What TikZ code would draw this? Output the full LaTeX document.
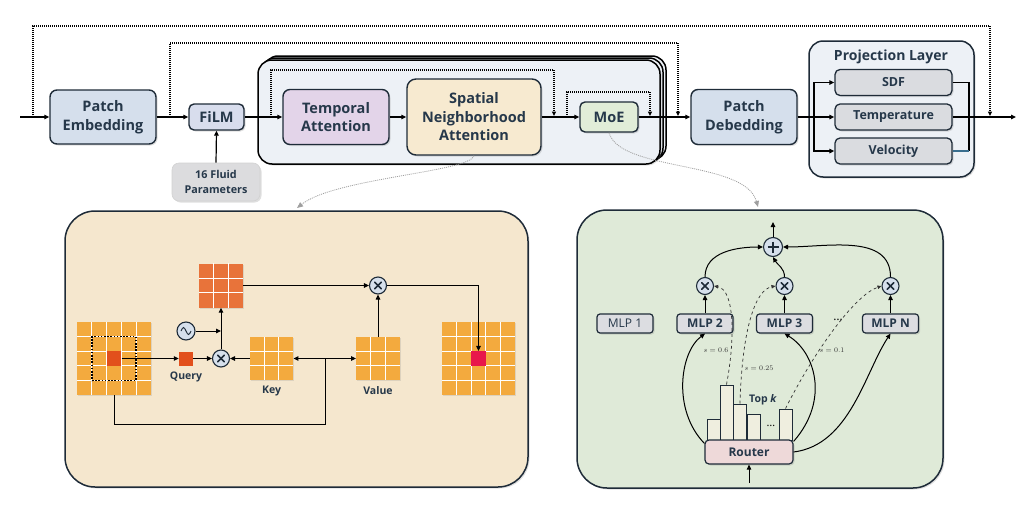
\documentclass[tikz,border=0pt]{standalone}
\usepackage{fontspec}
\setmainfont{Open Sans}
\usetikzlibrary{arrows.meta,shadows,calc}
\definecolor{edge}{HTML}{1E2B38}
\definecolor{txt}{HTML}{26384A}
\definecolor{peC}{HTML}{D5DFEC}
\definecolor{filmC}{HTML}{D8DDED}
\definecolor{fluidC}{HTML}{DCDCDE}
\definecolor{stkC}{HTML}{EDF1F6}
\definecolor{taC}{HTML}{E3D4E9}
\definecolor{snaC}{HTML}{F7EAD0}
\definecolor{moeC}{HTML}{E1EDD8}
\definecolor{subC}{HTML}{DADCE0}
\definecolor{lpC}{HTML}{F5E7CE}
\definecolor{rpC}{HTML}{DFEAD8}
\definecolor{gOr}{HTML}{F3AA3E}
\definecolor{attC}{HTML}{E8733A}
\definecolor{qC}{HTML}{E2501C}
\definecolor{ocC}{HTML}{E8174B}
\definecolor{opC}{HTML}{D6E0EC}
\definecolor{mlpC}{HTML}{DCDDE1}
\definecolor{rtC}{HTML}{EED9D9}
\definecolor{barC}{HTML}{EFEEDF}
\definecolor{velC}{HTML}{3A6F8F}
\newcommand{\mygrid}[2]{%
  \foreach \i in {#2} {%
    \draw[white,line width=0.9pt] ($(#1.north west)!\i!(#1.north east)$) -- ($(#1.south west)!\i!(#1.south east)$);
    \draw[white,line width=0.9pt] ($(#1.north west)!\i!(#1.south west)$) -- ($(#1.north east)!\i!(#1.south east)$);
  }}
\newcommand{\mycross}[1]{%
  \draw[line width=1.7pt,edge,line cap=round] ($(#1.center)+(-3.2,-3.2)$) -- ($(#1.center)+(3.2,3.2)$);
  \draw[line width=1.7pt,edge,line cap=round] ($(#1.center)+(-3.2,3.2)$) -- ($(#1.center)+(3.2,-3.2)$);}
\begin{document}
\begin{tikzpicture}[x=1pt,y=-1pt,
  shd/.style={drop shadow={shadow xshift=1.5pt,shadow yshift=-1.5pt,opacity=0.25}},
  blk/.style={draw=edge,line width=1.4pt,rounded corners=7pt,align=center,
    font=\bfseries\fontsize{14.5}{18.5}\selectfont,text=txt,inner sep=0pt,shd},
  sub/.style={draw=edge,line width=1.3pt,rounded corners=5pt,fill=subC,inner sep=0pt,
    minimum width=117,minimum height=26,font=\bfseries\fontsize{12.5}{14}\selectfont,text=txt,shd},
  stk/.style={draw=black,line width=1.5pt,rounded corners=14pt,fill=stkC,minimum width=402,minimum height=104,inner sep=0pt},
  panel/.style={draw=edge,line width=1.5pt,rounded corners=30pt,inner sep=0pt,shd},
  arr/.style={-{Triangle[length=5pt,width=4.5pt]},line width=1.2pt,draw=black},
  sarr/.style={-{Triangle[length=5pt,width=4.5pt]},line width=1pt,draw=black},
  dotl/.style={line width=1.3pt,dash pattern=on 1pt off 1pt,-{Triangle[length=4.5pt,width=4pt]}},
  gcurve/.style={draw=gray!75,line width=0.8pt,dash pattern=on 1pt off 1pt,-{Triangle[length=6pt,width=5pt,fill=gray!75]}},
  gridn/.style={fill=gOr,inner sep=0pt,draw=none,drop shadow={shadow xshift=1pt,shadow yshift=-1pt,opacity=0.2}},
  cell/.style={inner sep=0pt,draw=none,minimum size=14.7},
  opn/.style={circle,draw=edge,line width=1.1pt,fill=opC,minimum size=17,inner sep=0pt},
  lbl/.style={font=\bfseries\fontsize{10.5}{12}\selectfont,text=txt},
  mlp/.style={draw=edge,line width=1.2pt,rounded corners=3pt,fill=mlpC,minimum width=56,minimum height=19,
    inner sep=0pt,font=\bfseries\fontsize{12}{13}\selectfont,text=txt,shd},
  bar/.style={draw=edge,line width=1pt,fill=barC,inner sep=0pt,minimum width=13},
  dsh/.style={dashed,line width=0.7pt,draw=black!80,-{Triangle[length=4pt,width=3.5pt]}},
  slab/.style={font=\fontsize{7}{8}\selectfont,text=black!80}
]
\useasboundingbox (0,0) rectangle (1024,506);

% ---------- panels ----------
\node[panel,fill=lpC,minimum width=463,minimum height=276] (lp) at (296.5,349) {};
\node[panel,fill=rpC,minimum width=366,minimum height=278] (rp) at (760,349) {};

% ---------- top row ----------
\node[stk] (stkA) at (465,108) {};
\node[stk] (stkB) at (462,110) {};
\node[stk,shd] (stkC) at (459,112) {};

\node[blk,fill=peC,minimum width=106,minimum height=54] (pe) at (103,117) {Patch\\Embedding};
\node[blk,fill=filmC,minimum width=55,minimum height=26,rounded corners=5pt] (film) at (216.5,117) {FiLM};
\node[blk,fill=fluidC,draw=gray!35,line width=0.6pt,minimum width=88,minimum height=38,
  font=\bfseries\fontsize{10.8}{15}\selectfont] (fluid) at (216,182) {16 Fluid\\Parameters};
\node[blk,fill=taC,minimum width=106,minimum height=55] (ta) at (336,117) {Temporal\\Attention};
\node[blk,fill=snaC,minimum width=134,minimum height=76,rounded corners=9pt] (sna) at (474,117) {Spatial\\Neighborhood\\Attention};
\node[blk,fill=moeC,minimum width=58,minimum height=30,rounded corners=5pt] (moe) at (609,117) {MoE};
\node[blk,fill=peC,minimum width=106,minimum height=55] (pd) at (744,117) {Patch\\Debedding};

\node[draw=edge,line width=1.5pt,rounded corners=14pt,fill=stkC,minimum width=165,minimum height=136,inner sep=0pt,shd] (proj) at (891.5,109) {};
\node[font=\bfseries\fontsize{14}{16}\selectfont,text=txt] (projt) at (891,57) {Projection Layer};
\node[sub] (sdf) at (893.5,82.5) {SDF};
\node[sub] (temp) at (893.5,117) {Temperature};
\node[sub] (vel) at (893.5,151) {Velocity};

% main line
\coordinate (in) at (20,117);
\coordinate (out) at (1016,117);
\draw[arr] (in) -- (pe.west);
\draw[arr] (pe.east) -- (film.west);
\draw[arr] (fluid.north) -- (film.south);
\draw[arr] (film.east) -- (ta.west);
\draw[arr] (ta.east) -- (sna.west);
\draw[arr] (sna.east) -- (moe.west);
\draw[arr] (moe.east) -- (pd.west);
\draw[arr] (pd.east) -- (temp.west);
\coordinate (sp) at (814,117);
\draw[arr] (sp) |- (sdf.west);
\draw[arr] (sp) |- (vel.west);
\coordinate (jn) at (969,117);
\draw[line width=1.2pt] (sdf.east) -| (jn);
\draw[line width=1.2pt] (jn) -- (969,151);
\draw[line width=1.2pt,velC] (vel.east) -- (969,151);
\draw[arr] (temp.east) -- (out);

% dotted skip loops
\coordinate (d1a) at (33,117); \coordinate (d1b) at (990,116);
\draw[dotl] (d1a) -- (33,26) -- (990,26) -- (d1b);
\coordinate (d2a) at (170,117); \coordinate (d2b) at (678,116);
\draw[dotl] (d2a) -- (170,43) -- (678,43) -- (d2b);
\coordinate (d3a) at (271,117); \coordinate (d3b) at (554,116);
\draw[dotl] (d3a) -- (271,70) -- (554,70) -- (d3b);
\coordinate (d4a) at (567,117); \coordinate (d4b) at (650,116);
\draw[dotl] (d4a) -- (567,92) -- (650,92) -- (d4b);

% zoom curves
\coordinate (lpin) at (297,208);
\coordinate (rpin) at (758,207);
\draw[gcurve] (sna.south) .. controls (470,172) and (335,178) .. (lpin);
\draw[gcurve] (moe.south) .. controls (620,172) and (745,160) .. (rpin);

% ---------- left panel: spatial neighborhood attention ----------
\node[gridn,minimum size=73.5] (inp) at (114,358.5) {};
\mygrid{inp}{0.2,0.4,0.6,0.8}
\node[cell,fill=qC] (qc) at (114,358.5) {};
\node[draw=black,line width=1.6pt,dash pattern=on 1.6pt off 1.6pt,minimum size=44,inner sep=0pt] (win) at (114,358.5) {};

\node[gridn,minimum size=73.5] (outg) at (478.5,358.5) {};
\mygrid{outg}{0.2,0.4,0.6,0.8}
\node[cell,fill=ocC] (oc) at (478.5,358.5) {};

\node[gridn,minimum size=43.5] (key) at (271.5,358.5) {};
\mygrid{key}{0.3333,0.6667}
\node[gridn,minimum size=43.5] (val) at (378,358.5) {};
\mygrid{val}{0.3333,0.6667}
\node[gridn,fill=attC,minimum size=44] (att) at (221,285.5) {};
\mygrid{att}{0.3333,0.6667}

\node[cell,fill=qC,minimum size=14] (qry) at (186,358.5) {};
\node[lbl] (qlab) at (186,377) {Query};
\node[lbl] (klab) at (271.5,391) {Key};
\node[lbl] (vlab) at (378,391) {Value};

\node[opn] (t1) at (221,358.5) {};
\mycross{t1}
\node[opn] (t2) at (378,285.5) {};
\mycross{t2}
\node[opn,minimum size=18] (sine) at (186,331) {};
\draw[line width=0.9pt,edge] ($(sine.center)+(-5,0)$) sin ++(2.5,-3.5) cos ++(2.5,3.5) sin ++(2.5,3.5) cos ++(2.5,-3.5);

\draw[sarr] (qc.east) -- (qry.west);
\draw[sarr] (qry.east) -- (t1.west);
\draw[sarr] (key.west) -- (t1.east);
\draw[sarr] (t1.north) -- (att.south);
\coordinate (sj) at (221,331);
\draw[sarr] (sine.east) -- (sj);
\coordinate (kv) at (325,358.5);
\draw[line width=1pt] (inp.south) |- (325,424) -- (kv);
\draw[sarr] (kv) -- (key.east);
\draw[sarr] (kv) -- (val.west);
\draw[sarr] (att.east) -- (t2.west);
\draw[sarr] (val.north) -- (t2.south);
\draw[sarr] (t2.east) -| (oc.north);

% ---------- right panel: MoE ----------
\node[mlp,font=\fontsize{12}{13}\selectfont] (m1) at (625,323.5) {MLP 1};
\node[mlp] (m2) at (705,323.5) {MLP 2};
\node[mlp] (m3) at (784.5,323.5) {MLP 3};
\node[mlp] (mn) at (890.5,323.5) {MLP N};
\node[font=\fontsize{12}{12}\selectfont] (dots1) at (838,320) {…};

\node[opn] (x2) at (705,286) {};
\mycross{x2}
\node[opn] (x3) at (784.5,286) {};
\mycross{x3}
\node[opn] (xn) at (890.5,286) {};
\mycross{xn}
\node[opn,minimum size=19] (plus) at (773,247) {};
\draw[line width=1.8pt,edge] ($(plus.center)+(-5.5,0)$) -- ($(plus.center)+(5.5,0)$);
\draw[line width=1.8pt,edge] ($(plus.center)+(0,-5.5)$) -- ($(plus.center)+(0,5.5)$);
\coordinate (pout) at (773,222);

\node[bar,minimum height=21] (b1) at (713.5,429.5) {};
\node[bar,minimum height=55] (b2) at (726.5,412.5) {};
\node[bar,minimum height=36] (b3) at (740,422) {};
\node[bar,minimum height=26] (b4) at (753.5,427) {};
\node[bar,minimum height=31] (b5) at (785.5,424.5) {};
\node[font=\fontsize{11}{11}\selectfont] (dots2) at (771,426) {…};
\node[font=\bfseries\fontsize{10.5}{12}\selectfont,text=txt] (topk) at (763,400) {Top \textit{k}};
\node[draw=edge,line width=1.2pt,rounded corners=4pt,fill=rtC,minimum width=88,minimum height=24,inner sep=0pt,
  font=\bfseries\fontsize{12}{13}\selectfont,text=txt,shd] (router) at (749,452) {Router};
\coordinate (rin) at (749,483);
\draw[sarr] (rin) -- (router.south);

\draw[sarr] (m2.north) -- (x2.south);
\draw[sarr] (m3.north) -- (x3.south);
\draw[sarr] (mn.north) -- (xn.south);
\draw[sarr] (x2.north) to[out=90,in=180] (plus.west);
\draw[sarr] (x3.north) to[out=90,in=-60] (plus.south);
\draw[sarr] (xn.north) to[out=90,in=0] (plus.east);
\draw[sarr] (plus.north) -- (pout);

\draw[sarr] ([yshift=-4pt]router.north west) .. controls (672,410) and (680,352) .. (m2.south);
\draw[sarr] ([yshift=-2pt]router.north east) .. controls (830,400) and (815,352) .. (m3.south);
\draw[sarr] (router.east) .. controls (850,445) and (865,372) .. (mn.south);

\draw[dsh] (b2.north) .. controls (735,340) and (735,290) .. (x2.east);
\draw[dsh] (b3.north) .. controls (742,330) and (755,290) .. (x3.west);
\draw[dsh] (b5.north) .. controls (815,350) and (855,295) .. (xn.west);
\node[slab] (s1) at (716,350) {$s=0.6$};
\node[slab] (s2) at (759,368) {$s=0.25$};
\node[slab] (s3) at (832,350) {$s=0.1$};
\end{tikzpicture}
\end{document}
